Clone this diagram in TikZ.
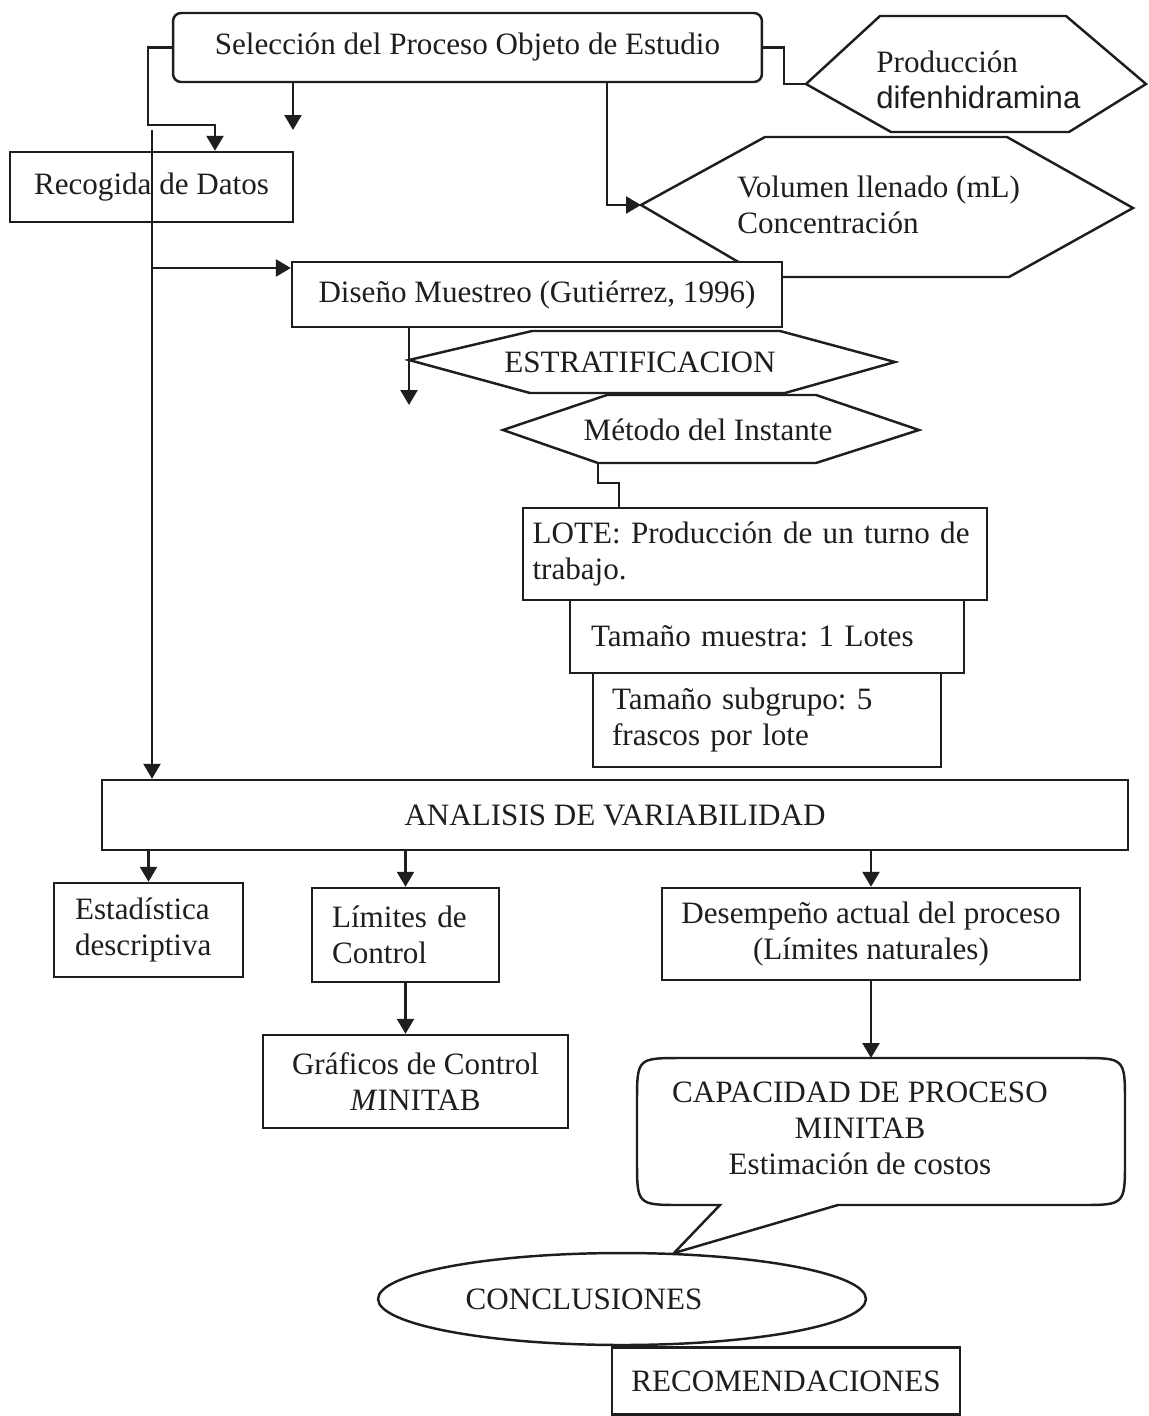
\documentclass[tikz,border=0pt]{standalone}
\usepackage{fontspec}
\setmainfont{Liberation Serif}
\newfontfamily\arialfont{Liberation Sans}
\usepackage{tikz}
\usetikzlibrary{arrows.meta,positioning,calc,shapes.geometric}
\frenchspacing
\definecolor{Ink}{HTML}{1E1E1E}
\tikzset{
  box/.style={draw=Ink,line width=1.4pt,fill=white,inner sep=0pt,align=center,text=Ink},
  roundbox/.style={box,rounded corners=1.6mm},
  leftbox/.style={box,align=left},
  shapeline/.style={draw=Ink,line width=1.4pt,fill=white,line join=miter},
  hexText/.style={inner sep=0pt,align=center,text=Ink},
  arrow/.style={-{Triangle[length=3mm,width=3.4mm]},line width=1.4pt,draw=Ink},
  joint/.style={line width=1.4pt,draw=Ink}
}
\begin{document}
\begin{tikzpicture}[x=0.02cm,y=-0.02cm,font=\fontsize{17.7}{20.5}\selectfont]
\fill[white] (0,0) rectangle (1149,1416);
\useasboundingbox (0,0) rectangle (1149,1416);
\draw[shapeline] (641,205) coordinate (volL) -- (765,137) -- (1007,137) -- (1133,208) -- (1009,277) -- (764,277) -- cycle;
\node[hexText,anchor=west,align=left] (vol) at (737,205) {Volumen llenado (mL)\\Concentración};
\draw[shapeline] (409,360) -- (532,331) -- (780,331) -- (895,362) -- (785,393) -- (530,393) -- cycle;
\node[hexText] (estrat) at (640,362) {ESTRATIFICACION};
\draw[shapeline] (503,430) -- (607,395) -- (816,395) -- (919,430) -- (816,463) -- (598,463) coordinate (metB) -- cycle;
\node[hexText] (metodo) at (708,430) {Método del Instante};
\draw[shapeline] (806,84) coordinate (prodL) -- (880,16) -- (1066,16) -- (1146,84) -- (1069,132) -- (891,132) -- cycle;
\node[hexText,anchor=west,align=left] (prod) at (876,80) {Producción\\{\arialfont difenhidramina}};
\node[roundbox,minimum width=11.78cm,minimum height=1.38cm] (sel) at (467.5,47.5) {Selección del Proceso Objeto de Estudio};
\node[box,minimum width=5.66cm,minimum height=1.4cm] (recog) at (151.5,187) {Recogida de Datos};
\node[box,minimum width=9.8cm,minimum height=1.3cm] (diseno) at (537,294.5) {Diseño Muestreo (Gutiérrez, 1996)};
\node[leftbox,minimum width=9.28cm,minimum height=1.84cm,text width=8.9cm] (lote) at (755,554) {LOTE: Producción de un turno de\\trabajo.};
\node[leftbox,minimum width=7.88cm,minimum height=1.46cm,text width=7.04cm] (muestra) at (767,636.5) {Tamaño muestra: 1 Lotes};
\node[leftbox,minimum width=6.96cm,minimum height=1.88cm,text width=6.2cm] (subgr) at (767,720) {Tamaño subgrupo: 5\\frascos por lote};
\node[box,minimum width=20.52cm,minimum height=1.4cm] (analisis) at (615,815) {ANALISIS DE VARIABILIDAD};
\node[leftbox,minimum width=3.78cm,minimum height=1.88cm,text width=2.94cm] (estad) at (148.5,930) {Estadística\\descriptiva};
\node[leftbox,minimum width=3.74cm,minimum height=1.88cm,text width=2.94cm] (limites) at (405.5,935) {Límites de\\Control};
\node[box,minimum width=6.1cm,minimum height=1.86cm] (graf) at (415.5,1081.5) {Gráficos de Control\\\textit{M}INITAB};
\node[box,minimum width=8.36cm,minimum height=1.84cm] (desemp) at (871,934) {Desempeño actual del proceso\\(Límites naturales)};
\draw[shapeline] (674,1253) -- (838,1205) -- (1080,1205) .. controls (1125,1205) .. (1125,1160) -- (1125,1103) .. controls (1125,1058) .. (1080,1058) -- (682,1058) .. controls (637,1058) .. (637,1103) -- (637,1160) .. controls (637,1205) .. (682,1205) -- (720,1205) -- cycle;
\node[hexText] (capac) at (860,1128) {CAPACIDAD DE PROCESO\\MINITAB\\Estimación de costos};
\node[ellipse,draw=Ink,line width=1.4pt,fill=white,inner sep=0pt,minimum width=9.76cm,minimum height=1.84cm,text=Ink] (concl) at (622,1299) {CONCLUSIONES\hspace*{1.52cm}};
\node[box,minimum width=6.96cm,minimum height=1.34cm] (recom) at (786,1381) {RECOMENDACIONES};
\coordinate (bendA) at (148,125);
\coordinate (recogIn) at (215,125);
\coordinate (selOut) at (293,130);
\coordinate (trunkTop) at (152,130);
\coordinate (trunkMid) at (152,268);
\coordinate (volDrop) at (607,205);
\coordinate (disOut) at (409,405);
\coordinate (loteIn) at (619,483);
\coordinate (capTop) at (871,1058);
\draw[arrow] (sel.west) -| (bendA) -- (recogIn) -- (recogIn |- recog.north);
\draw[arrow] (selOut |- sel.south) -- (selOut);
\draw[arrow] (trunkTop) -- (trunkTop |- analisis.north);
\draw[arrow] (trunkMid) -- (trunkMid -| diseno.west);
\draw[arrow] (volDrop |- sel.south) -- (volDrop) -- (volL);
\draw[joint] (sel.east) -- ++(21,0) |- (prodL);
\draw[arrow] (disOut |- diseno.south) -- (disOut);
\draw[joint] (metB) |- (loteIn) -- (loteIn |- lote.north);
\draw[arrow] (analisis.south -| estad.north) -- (estad.north);
\draw[arrow] (analisis.south -| limites.north) -- (limites.north);
\draw[arrow] (limites.south) -- (limites.south |- graf.north);
\draw[arrow] (analisis.south -| desemp.north) -- (desemp.north);
\draw[arrow] (desemp.south) -- (capTop);
\end{tikzpicture}
\end{document}
